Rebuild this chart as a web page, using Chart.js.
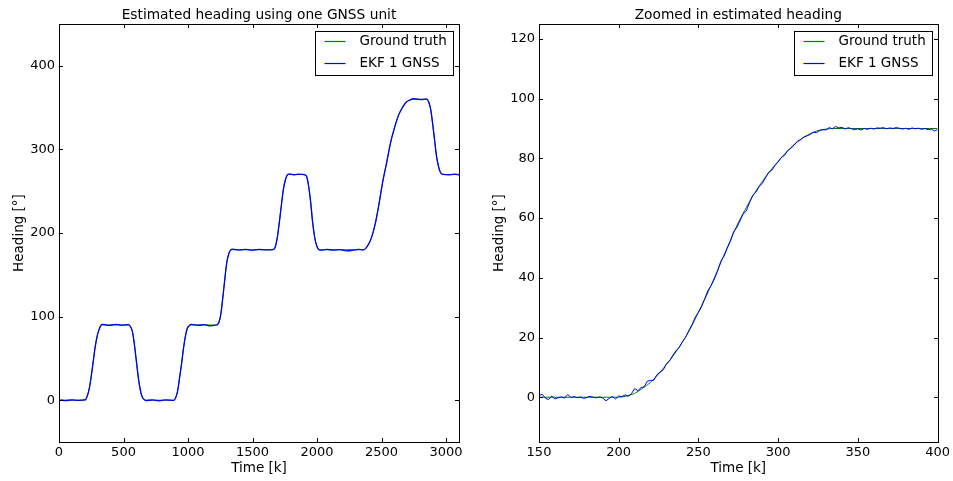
<!DOCTYPE html>
<html>
<head>
<meta charset="utf-8">
<script src="https://cdn.jsdelivr.net/npm/chart.js@4"></script>
<style>
html,body{margin:0;padding:0;background:#fff;overflow:hidden;}
#left{position:absolute;left:0;top:0;}
#right{position:absolute;left:480px;top:0;}
</style>
</head>
<body>
<canvas id="left" width="476" height="481"></canvas>
<canvas id="right" width="473" height="481"></canvas>
<script>
// --- data ---
const seriesNames = ['Ground truth', 'EKF 1 GNSS'];
const seriesColors = ['#008000', '#0000ff'];

// full run (left panel)
const leftTime = [0,50,100,150,205,
  220,235,250,265,280,295,310,325,340,
  390,440,490,540,
  555,570,585,600,615,630,645,660,675,
  725,775,825,890,
  905,920,935,950,965,980,995,1010,1025,
  1075,1125,1175,1225,
  1240,1255,1270,1285,1300,1315,1330,1345,
  1400,1450,1500,1550,1600,1663,
  1678,1693,1708,1723,1738,1753,1768,1783,
  1825,1865,1905,
  1920,1935,1950,1965,1980,1995,2010,2025,
  2075,2125,2175,2225,2275,2320,2360,
  2390,2420,2450,2480,2510,2540,2570,2600,2630,2660,2690,2720,2750,
  2800,2850,
  2865,2880,2895,2910,2925,2940,2955,2970,
  3020,3060,3100];
const leftTruth = [0,0,0,0,0,
  5,14.5,28.5,46.3,63.5,75.8,84.6,89.3,90,
  90,90,90,90,
  88,81,66,46,27,12,4,0.6,0,
  0,0,0,0,
  3,12,27,44,62,77,86,89.5,90,
  90,90,90,90,
  93,104,123,145,164,175,179.3,180,
  180,180,180,180,180,180,
  184,196,213,233,251,263,268.8,270,
  270,270,270,
  267,256,237,214,196,186,181,180,
  180,180,180,180,180,180,180,
  184,194,210,235,262,285,308,326,340,350,356,359,360,
  360,360,
  357,348,332,312,293,280,273,270,
  270,270,270];
const leftEkf = [0.4,-0.6,0.5,-0.3,0.6,
  5.6,14.1,28.9,45.8,63.1,76.2,84.1,89.6,90.8,
  89.4,90.6,89.7,90.5,
  87.6,81.4,65.5,46.4,26.6,12.5,3.7,0.9,-0.5,
  0.4,-0.7,0.3,-0.2,
  3.4,11.6,27.5,43.6,62.3,76.6,86.4,89.1,90.6,
  89.5,90.4,88.9,90.2,
  93.5,103.6,123.4,144.7,164.4,174.6,179.8,180.6,
  179.6,180.5,179.4,180.3,179.7,180.4,
  184.5,195.6,213.4,232.6,251.4,262.5,269.2,270.8,
  269.6,270.5,269.5,
  267.4,255.6,237.5,213.6,196.4,185.6,180.6,179.4,
  180.4,179.5,180.2,178.6,179.2,180.3,179.8,
  184.4,193.6,210.5,234.6,262.4,284.6,308.5,325.6,340.4,349.6,356.4,359.3,360.6,
  359.5,360.4,
  356.6,348.4,331.6,312.4,292.6,280.5,272.6,270.4,
  269.5,270.4,269.7];

// zoomed window (right panel)
const rightTruthTime = [150,155,160,165,170,175,180,185,190,195,200,
  205,210,215,220,225,230,235,240,245,250,255,260,265,270,275,280,285,290,295,300,305,310,315,320,325,330,
  335,340,345,350,355,360,365,370,375,380,385,390,395,400];
const rightTruth = [0,0,0,0,0,0,0,0,0,0,0,
  0.4,1.3,3,5,7.8,11,14.5,18.5,23,28.5,34,40,46.3,52.5,58.5,63.5,68.2,72.2,75.8,79,82,84.6,86.7,88.2,89.3,89.8,
  90,90,90,90,90,90,90,90,90,90,90,90,90,90];
const rightEkfTime = [150,152,154,156,158,160,162,164,166,168,170,172,174,176,178,180,182,184,186,188,190,192,194,196,198,200,
  202,204,206,208,210,212,214,216,218,220,222,224,226,228,230,232,234,236,238,240,242,244,246,248,250,
  252,254,256,258,260,262,264,266,268,270,272,274,276,278,280,282,284,286,288,290,292,294,296,298,300,
  302,304,306,308,310,312,314,316,318,320,322,324,326,328,330,332,334,336,338,340,342,344,346,348,350,
  352,354,356,358,360,362,364,366,368,370,372,374,376,378,380,382,384,386,388,390,392,394,396,398,400];
const rightEkf = [0.5,1.0,-0.3,-0.8,0.4,-0.6,-0.2,0.1,-0.3,0.9,-0.1,0.2,-0.2,0.1,-0.4,-0.1,0.3,0.0,-0.2,0.1,-0.3,-1.2,-0.4,0.3,-0.6,0.4,
  0.2,0.8,0.3,1.2,2.9,2.2,3.2,3.5,5.4,5.6,5.7,7.6,8.4,9.2,11.3,12.2,14.1,15.6,16.7,18.6,20.1,22.4,24.3,26.8,28.4,
  30.4,33.1,35.8,37.4,39.6,42.2,45.5,47.2,49.8,52.2,55.3,56.8,59.0,61.3,62.4,65.1,67.6,68.6,70.5,71.6,73.4,75.3,76.0,77.6,78.8,
  80.3,81.0,82.6,83.4,84.4,85.7,86.2,87.1,87.5,88.0,88.7,88.6,89.3,89.6,89.5,90.3,89.9,90.7,90.2,90.4,89.8,90.3,89.9,89.6,89.9,
  89.5,90.0,89.7,90.1,89.8,90.2,90.1,90.3,89.9,90.2,90.0,90.3,90.1,89.8,90.1,89.7,90.2,89.9,90.1,89.7,90.0,89.6,89.8,89.2,89.6];

const leftXTicks = [0,500,1000,1500,2000,2500,3000];
const leftYTicks = [0,100,200,300,400];
const rightXTicks = [150,200,250,300,350,400];
const rightYTicks = [0,20,40,60,80,100,120];

Chart.defaults.font.family = '"DejaVu Sans", sans-serif';
Chart.defaults.font.size = 13;
Chart.defaults.color = '#000';

const pts = (xs, ys) => xs.map((x, i) => ({x, y: ys[i]}));

// frame, inward ticks on all four sides, boxed legend
const framePlugin = {
  id: 'frame',
  afterDatasetsDraw(chart){
    const {ctx, chartArea: a, scales: {x, y}} = chart;
    const L = Math.round(a.left), R = Math.round(a.right), T = Math.round(a.top), B = Math.round(a.bottom);
    ctx.save();
    ctx.strokeStyle = '#000';
    ctx.lineWidth = 1;
    ctx.strokeRect(L + 0.5, T + 0.5, R - L, B - T);
    ctx.beginPath();
    for(const t of x.ticks){
      const px = Math.round(x.getPixelForValue(t.value)) + 0.5;
      ctx.moveTo(px, B); ctx.lineTo(px, B - 4);
      ctx.moveTo(px, T); ctx.lineTo(px, T + 4);
    }
    for(const t of y.ticks){
      const py = Math.round(y.getPixelForValue(t.value)) + 0.5;
      ctx.moveTo(L, py); ctx.lineTo(L + 4, py);
      ctx.moveTo(R, py); ctx.lineTo(R - 4, py);
    }
    ctx.stroke();
    // legend
    const w = 138, h = 44;
    const lx = R - 6 - w + 0.5, ly = T + 7 + 0.5;
    ctx.fillStyle = '#fff';
    ctx.fillRect(lx, ly, w, h);
    ctx.strokeStyle = '#000';
    ctx.strokeRect(lx, ly, w, h);
    ctx.font = '13.5px "DejaVu Sans", sans-serif';
    ctx.textAlign = 'left';
    ctx.textBaseline = 'middle';
    chart.data.datasets.forEach((ds, i) => {
      const ry = Math.round(ly + 9.5 + i * 21.6) + 0.5;
      ctx.beginPath();
      ctx.strokeStyle = seriesColors[i];
      ctx.lineWidth = 1.2;
      ctx.moveTo(lx + 9, ry); ctx.lineTo(lx + 30, ry);
      ctx.stroke();
      ctx.fillStyle = '#000';
      ctx.fillText(ds.label, lx + 44, ry);
    });
    ctx.restore();
  }
};

function makeChart(id, title, datasets, xr, yr, xt, yt, padRight){
  new Chart(document.getElementById(id), {
    type: 'line',
    data: { datasets },
    options: {
      responsive: false,
      animation: false,
      parsing: false,
      layout: { padding: { left: 0, right: padRight, top: 0, bottom: 0 } },
      elements: { point: { radius: 0 } },
      plugins: {
        legend: { display: false },
        tooltip: { enabled: false },
        title: { display: true, text: title, fullSize: false, color: '#000',
          font: { size: 13.75, weight: 'normal' }, padding: { top: 7.5, bottom: 0 } }
      },
      scales: {
        x: {
          type: 'linear', min: xr[0], max: xr[1],
          grid: { display: false, drawTicks: false }, border: { display: false },
          afterBuildTicks: s => { s.ticks = xt.map(v => ({value: v})); },
          afterFit: s => { s.height = 39; },
          ticks: { padding: 3, maxRotation: 0, callback: v => String(v) },
          title: { display: true, text: 'Time [k]', font: { size: 13.5 }, padding: { top: 0, bottom: 4 } }
        },
        y: {
          type: 'linear', min: yr[0], max: yr[1],
          grid: { display: false, drawTicks: false }, border: { display: false },
          afterBuildTicks: s => { s.ticks = yt.map(v => ({value: v})); },
          afterFit: s => { s.width = 59; },
          ticks: { padding: 4, callback: v => String(v) },
          title: { display: true, text: 'Heading [°]', font: { size: 13.5 }, padding: { top: 11, bottom: 0 } }
        }
      }
    },
    plugins: [framePlugin]
  });
}

makeChart('left', 'Estimated heading using one GNSS unit', [
  { label: seriesNames[0], data: pts(leftTime, leftTruth), borderColor: seriesColors[0], borderWidth: 1,
    cubicInterpolationMode: 'monotone', order: 1 },
  { label: seriesNames[1], data: pts(leftTime, leftEkf), borderColor: seriesColors[1], borderWidth: 1.3,
    cubicInterpolationMode: 'monotone', order: 0 }
], [0, 3100], [-50, 450], leftXTicks, leftYTicks, 17);

makeChart('right', 'Zoomed in estimated heading', [
  { label: seriesNames[0], data: pts(rightTruthTime, rightTruth), borderColor: seriesColors[0], borderWidth: 1,
    cubicInterpolationMode: 'monotone', order: 1 },
  { label: seriesNames[1], data: pts(rightEkfTime, rightEkf), borderColor: seriesColors[1], borderWidth: 1,
    tension: 0, order: 0 }
], [150, 400], [-15, 125], rightXTicks, rightYTicks, 14);
</script>
</body>
</html>
